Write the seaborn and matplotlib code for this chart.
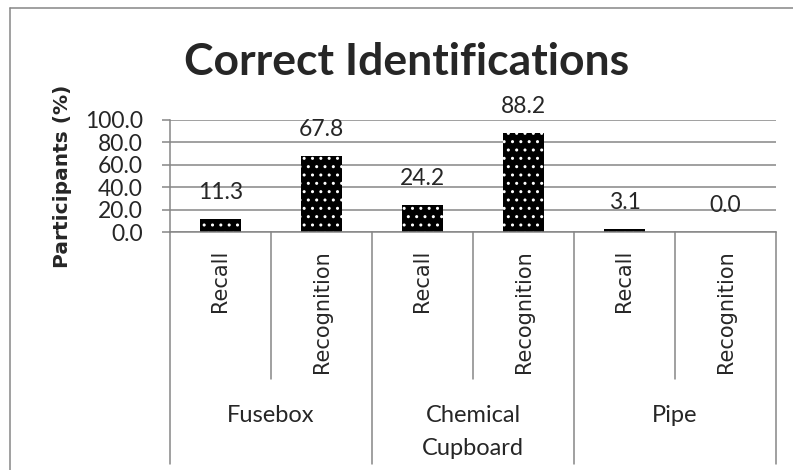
import matplotlib
matplotlib.use("Agg")
import matplotlib.pyplot as plt
import matplotlib.transforms as mtransforms
from matplotlib.lines import Line2D
import pandas as pd
import seaborn as sns

# data
items = ["Fusebox", "Chemical\nCupboard", "Pipe"]
methods = ["Recall", "Recognition"]
recall = [11.3, 24.2, 3.1]
recognition = [67.8, 88.2, 0.0]
yticks = [0, 20, 40, 60, 80, 100]
title = "Correct Identifications"
ylabel = "Participants (%)"

rows = []
for i, item in enumerate(items):
    rows.append((item, methods[0], recall[i]))
    rows.append((item, methods[1], recognition[i]))
df = pd.DataFrame(rows, columns=["item", "method", "pct"])
df["slot"] = df["item"] + " / " + df["method"]

sns.set_style("white")
plt.rcParams["font.family"] = ["Lato", "DejaVu Sans"]
GRAY = "#868686"

W, H = 793, 470
fig = plt.figure(figsize=(W / 100, H / 100), dpi=100)
x0, x1, ytop, ybot = 170, 776, 120, 232
ax = fig.add_axes([x0 / W, 1 - ybot / H, (x1 - x0) / W, (ybot - ytop) / H])


def yfrac(px):
    # pixel row -> axes fraction
    return (ybot - px) / (ybot - ytop)


sns.barplot(data=df, x="slot", y="pct", color="black", width=0.4,
            saturation=1, errorbar=None, ax=ax)
for p in ax.patches:
    p.set_facecolor("black")
    p.set_edgecolor("white")
    p.set_linewidth(0)
    p.set_hatch("..")

# value labels
for p, v in zip(ax.patches, df["pct"]):
    ax.annotate(f"{v:.1f}", (p.get_x() + p.get_width() / 2, p.get_height()),
                xytext=(0, 14.4), textcoords="offset points",
                ha="center", va="baseline", fontsize=16.5)

ax.set_ylim(0, 100)
ax.set_xlim(-0.5, len(df) - 0.5)
ax.set_yticks(yticks)
ax.set_yticklabels([f"{v:.1f}" for v in yticks])
ax.grid(axis="y", color=GRAY, lw=1.1)
ax.grid(axis="x", visible=False)
ax.set_axisbelow(True)
ax.tick_params(axis="y", left=True, length=5.8, width=1.1, color=GRAY,
               pad=13.7, labelsize=16.5)
ax.tick_params(axis="x", bottom=False, labelbottom=False)
ax.set_xlabel("")
for s in ["top", "right"]:
    ax.spines[s].set_visible(False)
for s in ["left", "bottom"]:
    ax.spines[s].set_color(GRAY)
    ax.spines[s].set_linewidth(1.1)

# two-level category axis
trans = mtransforms.blended_transform_factory(ax.transData, ax.transAxes)
for k in range(len(df) + 1):
    end = 464 if k % 2 == 0 else 379
    ax.plot([k - 0.5, k - 0.5], [0, yfrac(end)], transform=trans,
            color=GRAY, lw=1.1, clip_on=False)
for k, m in enumerate(df["method"]):
    ax.text(k, yfrac(250), m, rotation=90, ha="center", va="top",
            transform=trans, family="DejaVu Sans", fontsize=15)
for g, item in enumerate(items):
    ax.text(2 * g + 0.5, yfrac(405), item, ha="center", va="top",
            fontsize=17, linespacing=1.7, transform=trans)

ax.set_ylabel(ylabel, family="DejaVu Sans", fontweight="bold", fontsize=14.5)
ax.yaxis.set_label_coords((72 - x0) / (x1 - x0), 0.5)

fig.text(407 / W, 1 - 75 / H, title, ha="center", va="baseline",
         fontsize=32, fontweight="bold")

# chart border
fig.add_artist(Line2D([10 / W, 10 / W], [0, 1 - 8 / H], color=GRAY, lw=1.1))
fig.add_artist(Line2D([10 / W, 1], [1 - 8 / H, 1 - 8 / H], color=GRAY, lw=1.1))

fig.savefig("out.png", dpi=100)
